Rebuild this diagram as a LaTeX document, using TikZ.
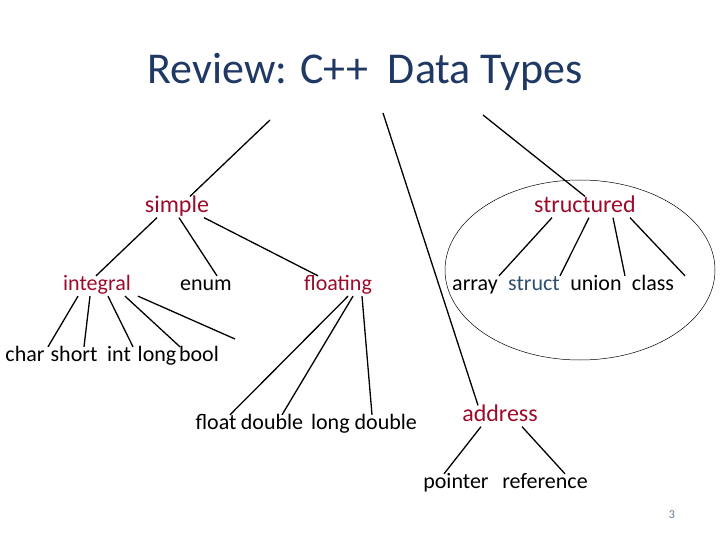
\documentclass[tikz,border=0pt]{standalone}
\usepackage{fontspec}
\setmainfont{Carlito}
\usetikzlibrary{positioning}
\definecolor{titleblue}{HTML}{1F3864}
\definecolor{catred}{HTML}{9E0B2A}
\definecolor{structblue}{HTML}{2F4F6F}
\tikzset{
  cat/.style={text=catred, font=\fontsize{24}{28}\selectfont, inner sep=1pt, text height=14pt, text depth=4pt},
  sub/.style={text=catred, font=\fontsize{22}{26}\selectfont, inner sep=1pt, text height=13pt, text depth=4pt},
  leaf/.style={font=\fontsize{22}{26}\selectfont, inner sep=1pt, text height=13pt, text depth=4pt}
}
\begin{document}
\begin{tikzpicture}[x=1pt,y=-1pt, line width=1.3pt]
   \useasboundingbox (0,0) rectangle (720,540);
   \node (title) [text=titleblue, font=\fontsize{44}{50}\selectfont] at (365,72) {Review: C++~~Data Types};
   % categories
   \node (simple) [cat] at (177,207) {simple};
   \node (structured) [cat] at (585,207) {structured};
   \node (address) [cat] at (500,416) {address};
   \node (integral) [sub] at (97,286) {integral};
   \node (enum) [leaf] at (206,286) {enum};
   \node (floating) [sub] at (338,286) {floating};
   \node (array) [leaf] at (475,286) {array};
   \node (struct) [leaf, text=structblue] at (534,286) {struct};
   \node (union) [leaf] at (596,286) {union};
   \node (class) [leaf] at (653,286) {class};
   % leaves
   \node (char) [leaf] at (25,357) {char};
   \node (short) [leaf] at (74,357) {short};
   \node (int) [leaf] at (119,357) {int};
   \node (long) [leaf] at (157,357) {long};
   \node (bool) [leaf] at (199,357) {bool};
   \node (float) [leaf] at (216,425) {float};
   \node (double) [leaf] at (272,425) {double};
   \node (longdouble) [leaf] at (364,425) {long double};
   \node (pointer) [leaf] at (456,484) {pointer};
   \node (reference) [leaf] at (545,484) {reference};
   \node (page) [text=titleblue!70, font=\fontsize{12}{14}\selectfont] at (672,515) {3};
   % free ends
   \coordinate (topS) at (270,120);
   \coordinate (topA) at (383,113);
   \coordinate (topT) at (483,115);
   \coordinate (stub) at (235,339);
   % edges
   \draw (topS) -- ([xshift=13]simple.north);
   \draw (topA) -- ([xshift=-22]address.north);
   \draw (topT) -- (structured.north);
   \draw ([xshift=-20]simple.south) -- ([xshift=-1]integral.north);
   \draw ([xshift=2]simple.south) -- ([xshift=11]enum.north);
   \draw ([xshift=27]simple.south) -- ([xshift=-20]floating.north);
   \draw ([xshift=-19]integral.south) -- ([xshift=23]char.north);
   \draw ([xshift=-7]integral.south) -- ([xshift=10]short.north);
   \draw ([xshift=11]integral.south) -- ([xshift=14]int.north);
   \draw ([xshift=28]integral.south) -- ([xshift=23]long.north);
   \draw ([xshift=41]integral.south) -- (stub);
   \draw ([xshift=10]floating.south) -- ([xshift=14]float.north);
   \draw ([xshift=15]floating.south) -- ([xshift=10]double.north);
   \draw ([xshift=24]floating.south) -- ([xshift=8]longdouble.north);
   \draw ([xshift=-33]structured.south) -- ([xshift=24]array.north);
   \draw ([xshift=4]structured.south) -- ([xshift=26]struct.north);
   \draw ([xshift=28]structured.south) -- ([xshift=29]union.north);
   \draw ([xshift=45]structured.south) -- ([xshift=32]class.north);
   \draw ([xshift=-19]address.south) -- ([xshift=-12]pointer.north);
   \draw ([xshift=22]address.south) -- ([xshift=20]reference.north);
   \draw[line width=0.5pt] (580,270) ellipse [x radius=135, y radius=90];
\end{tikzpicture}
\end{document}
